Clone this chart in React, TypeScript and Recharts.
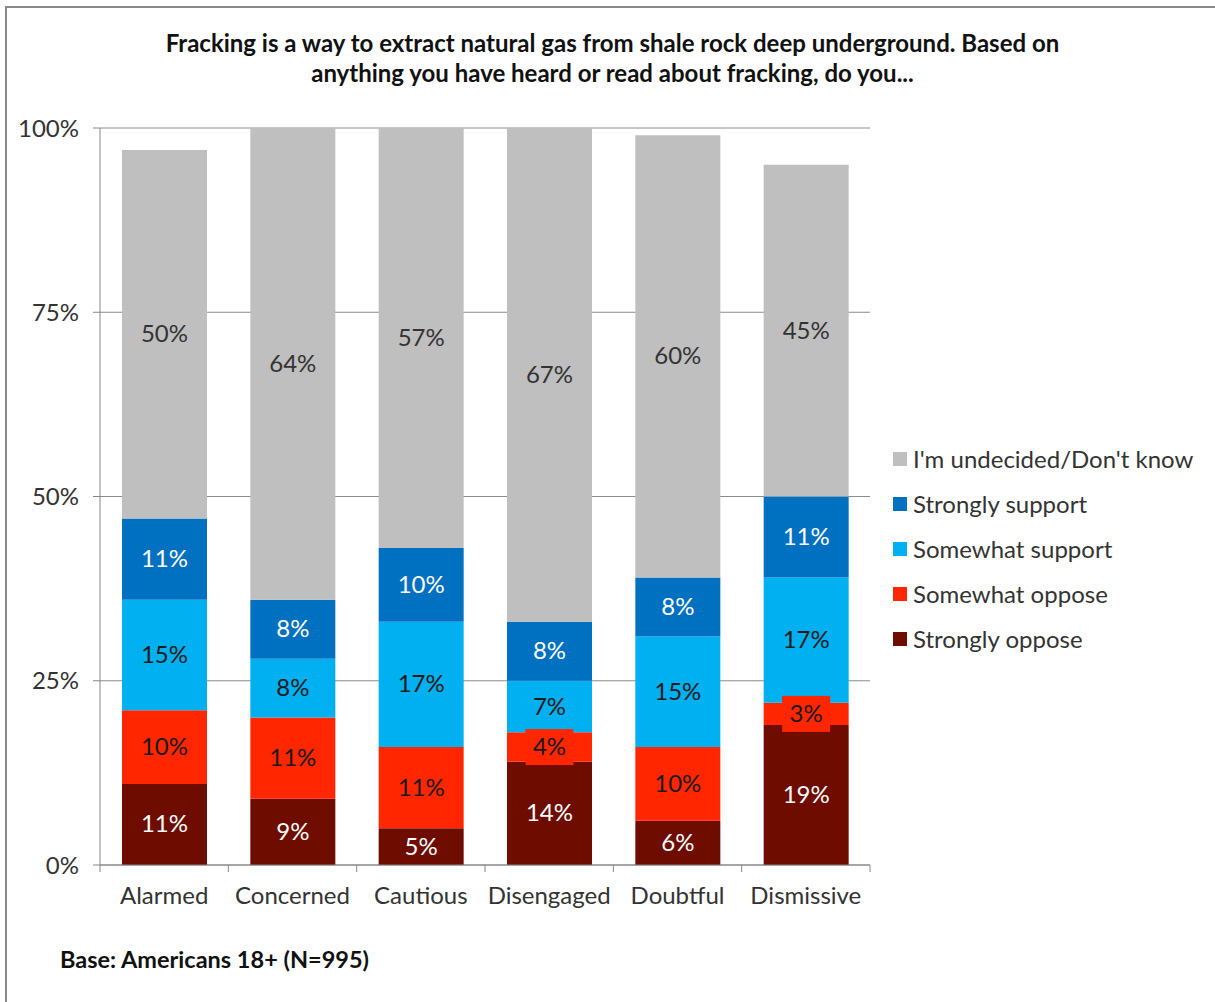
import React from 'react';
import { BarChart, Bar, XAxis, YAxis, CartesianGrid, LabelList } from 'recharts';

const categories = ['Alarmed', 'Concerned', 'Cautious', 'Disengaged', 'Doubtful', 'Dismissive'];
const stronglyOppose = [11, 9, 5, 14, 6, 19];
const somewhatOppose = [10, 11, 11, 4, 10, 3];
const somewhatSupport = [15, 8, 17, 7, 15, 17];
const stronglySupport = [11, 8, 10, 8, 8, 11];
const undecided = [50, 64, 57, 67, 60, 45];
const yTicks = [0, 25, 50, 75, 100];

const seriesDefs = [
  { key: 'so', name: 'Strongly oppose', color: '#6E0C00', label: '#ffffff' },
  { key: 'swo', name: 'Somewhat oppose', color: '#FF2600', label: '#1a1a1a' },
  { key: 'sws', name: 'Somewhat support', color: '#00B0F0', label: '#1a1a1a' },
  { key: 'ss', name: 'Strongly support', color: '#0070C0', label: '#ffffff' },
  { key: 'u', name: "I'm undecided/Don't know", color: '#BFBFBF', label: '#333333' },
];

const data = categories.map((c, i) => ({
  name: c,
  so: stronglyOppose[i],
  swo: somewhatOppose[i],
  sws: somewhatSupport[i],
  ss: stronglySupport[i],
  u: undecided[i],
}));

const FONT = 'Lato, "Open Sans", sans-serif';
const W = 1215;
const H = 1002;
const PLOT_LEFT = 100;
const PLOT_RIGHT = 870;
const PLOT_TOP = 128;
const PLOT_BOTTOM = 865;
const BAND = (PLOT_RIGHT - PLOT_LEFT) / categories.length;
const FS = 24;

const makeLabel = (fill: string, bg: string) => (props: any) => {
  const { x, y, width, height, value } = props;
  const cx = x + width / 2;
  const cy = y + height / 2;
  const txt = `${value}%`;
  const small = Math.abs(height) < 34;
  return (
    <g>
      {small && (
        <rect x={cx - 24} y={cy - 18} width={48} height={36} fill={bg} />
      )}
      <text x={cx} y={cy} dy={8} textAnchor="middle" fill={fill} fontSize={FS} fontFamily={FONT}>
        {txt}
      </text>
    </g>
  );
};

const XTick = (props: any) => {
  const { x, y, payload, index } = props;
  const left = x - BAND / 2;
  return (
    <g>
      <line x1={left} y1={PLOT_BOTTOM} x2={left} y2={PLOT_BOTTOM + 7} stroke="#868686" strokeWidth={1} />
      {index === categories.length - 1 && (
        <line x1={x + BAND / 2} y1={PLOT_BOTTOM} x2={x + BAND / 2} y2={PLOT_BOTTOM + 7} stroke="#868686" strokeWidth={1} />
      )}
      <text x={x} y={y + 31} textAnchor="middle" fill="#333333" fontSize={FS} fontFamily={FONT}>
        {payload.value}
      </text>
    </g>
  );
};

const LegendBox = () => {
  const items = [...seriesDefs].reverse();
  return (
    <div style={{ position: 'absolute', left: 893, top: 436, fontFamily: FONT }}>
      {items.map((s) => (
        <div key={s.key} style={{ display: 'flex', alignItems: 'center', height: 45 }}>
          <span style={{ display: 'inline-block', width: 14, height: 14, background: s.color, marginRight: 6 }} />
          <span style={{ fontSize: FS, color: '#333333', whiteSpace: 'nowrap' }}>{s.name}</span>
        </div>
      ))}
    </div>
  );
};

export default function App() {
  return (
    <div style={{ position: 'fixed', left: 0, top: 0, width: W, height: H, background: '#ffffff', overflow: 'hidden' }}>
      <div style={{ position: 'absolute', left: 0, top: 28, width: 1225, textAlign: 'center', fontFamily: FONT, fontWeight: 700, fontSize: FS, lineHeight: '30px', color: '#111' }}>
        Fracking is a way to extract natural gas from shale rock deep underground. Based on
        <br />
        anything you have heard or read about fracking, do you...
      </div>
      <div style={{ position: 'absolute', left: 0, top: 0 }}>
        <BarChart
          width={W}
          height={H}
          data={data}
          margin={{ top: PLOT_TOP, right: W - PLOT_RIGHT, left: 0, bottom: H - PLOT_BOTTOM - 40 }}
          barSize={85}
        >
          <CartesianGrid vertical={false} stroke="#8c8c8c" strokeWidth={1} />
          <XAxis
            dataKey="name"
            height={40}
            axisLine={{ stroke: '#868686' }}
            tickLine={false}
            tick={<XTick />}
            interval={0}
          />
          <YAxis
            width={PLOT_LEFT}
            domain={[0, 100]}
            ticks={yTicks}
            tickFormatter={(v: number) => `${v}%`}
            axisLine={{ stroke: '#868686' }}
            tickLine={{ stroke: '#868686' }}
            tickSize={7}
            tickMargin={14}
            tick={{ fontSize: FS, fill: '#333333', fontFamily: FONT }}
          />
          {seriesDefs.map((s) => (
            <Bar key={s.key} dataKey={s.key} name={s.name} stackId="a" fill={s.color} isAnimationActive={false}>
              <LabelList dataKey={s.key} content={makeLabel(s.label, s.color)} />
            </Bar>
          ))}
        </BarChart>
      </div>
      <LegendBox />
      <div style={{ position: 'absolute', left: 60, top: 945, fontFamily: FONT, fontWeight: 700, fontSize: 23.5, color: '#111' }}>
        Base: Americans 18+ (N=995)
      </div>
      <div style={{ position: 'absolute', left: 5, top: 6, width: W + 20, height: H + 20, borderTop: '2px solid #8a8a8a', borderLeft: '2px solid #8a8a8a', boxSizing: 'border-box', pointerEvents: 'none', zIndex: 10 }} />
    </div>
  );
}
